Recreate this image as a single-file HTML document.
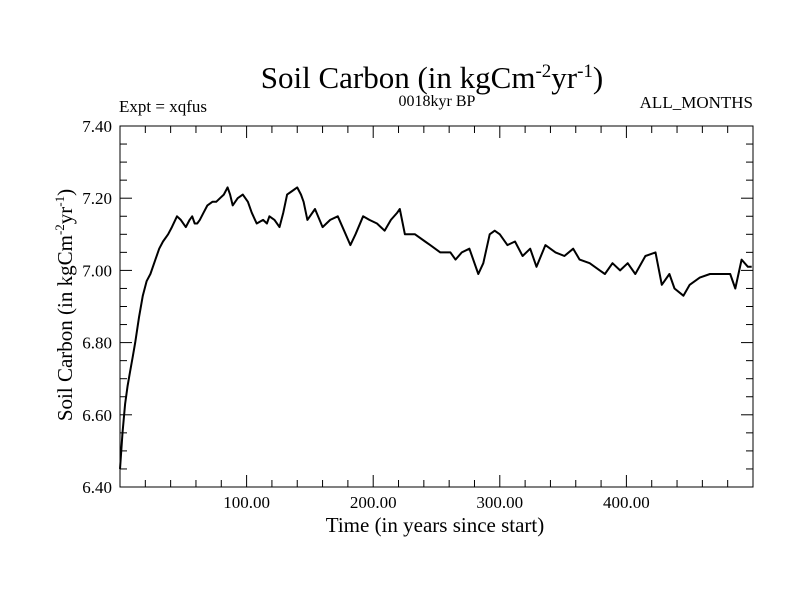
<!DOCTYPE html>
<html><head><meta charset="utf-8"><style>
body{margin:0;background:#fff;}
svg text{font-family:"Liberation Serif",serif;fill:#000;}
</style></head><body>
<svg id="chart" width="800" height="600" xmlns="http://www.w3.org/2000/svg">
<text x="432" y="88" font-size="31" text-anchor="middle">Soil Carbon (in kgCm<tspan dy="-11" font-size="19">-2</tspan><tspan dy="11">yr</tspan><tspan dy="-11" font-size="19">-1</tspan><tspan dy="11">)</tspan></text>
<text x="119" y="112" font-size="17">Expt = xqfus</text>
<text x="437" y="106" font-size="16" text-anchor="middle">0018kyr BP</text>
<text x="753" y="108" font-size="17" text-anchor="end">ALL_MONTHS</text>
<text x="435" y="532" font-size="21" text-anchor="middle">Time (in years since start)</text>
<text transform="translate(72,305) rotate(-90)" font-size="21" text-anchor="middle">Soil Carbon (in kgCm<tspan dy="-8" font-size="13">-2</tspan><tspan dy="8">yr</tspan><tspan dy="-8" font-size="13">-1</tspan><tspan dy="8">)</tspan></text>
<g id="axes"></g>
<path id="series" fill="none" stroke="#000" stroke-width="2" stroke-linejoin="round"/>
<rect x="120" y="126" width="633" height="361" fill="none" stroke="#000" stroke-width="1"/>
</svg>
<script>
const years=[0,2,4,6,8,10,12,15,18,21,24,28,31,34,38,41,45,48,52,55,57,59,61,63,66,69,73,76,79,82,85,87,89,93,97,101,104,108,113,116,118,122,126,129,132,136,140,143,145,148,154,160,166,172,177,182,186,192,197,203,209,214,219,221,225,233,241,245,253,261,265,270,276,283,287,292,296,300,306,312,318,324,329,336,344,351,358,363,371,379,383,389,395,401,407,415,423,428,434,438,445,450,458,466,474,482,486,491,496,499];
const values=[6.45,6.55,6.63,6.68,6.72,6.76,6.80,6.87,6.93,6.97,6.99,7.03,7.06,7.08,7.10,7.12,7.15,7.14,7.12,7.14,7.15,7.13,7.13,7.14,7.16,7.18,7.19,7.19,7.20,7.21,7.23,7.21,7.18,7.20,7.21,7.19,7.16,7.13,7.14,7.13,7.15,7.14,7.12,7.16,7.21,7.22,7.23,7.21,7.19,7.14,7.17,7.12,7.14,7.15,7.11,7.07,7.10,7.15,7.14,7.13,7.11,7.14,7.16,7.17,7.10,7.10,7.08,7.07,7.05,7.05,7.03,7.05,7.06,6.99,7.02,7.10,7.11,7.10,7.07,7.08,7.04,7.06,7.01,7.07,7.05,7.04,7.06,7.03,7.02,7.00,6.99,7.02,7.00,7.02,6.99,7.04,7.05,6.96,6.99,6.95,6.93,6.96,6.98,6.99,6.99,6.99,6.95,7.03,7.01,7.01];
const yTicks=[6.40,6.60,6.80,7.00,7.20,7.40];
const xTicks=[100,200,300,400];
const X0=120,X1=753,Y0=487,Y1=126;
const xs=v=>X0+(v-0)/(500-0)*(X1-X0);
const ys=v=>Y0-(v-6.4)/(7.4-6.4)*(Y0-Y1);
const NS="http://www.w3.org/2000/svg";
const ax=document.getElementById('axes');
function line(x1,y1,x2,y2){const l=document.createElementNS(NS,'line');l.setAttribute('x1',x1);l.setAttribute('y1',y1);l.setAttribute('x2',x2);l.setAttribute('y2',y2);l.setAttribute('stroke','#000');l.setAttribute('stroke-width','1');


ax.appendChild(l);}
for(let v=20;v<500;v+=20){const x=xs(v);const L=(v%100===0)?12:7;line(x,Y0,x,Y0-L);line(x,Y1,x,Y1+L);}
for(let v=6.45;v<7.39;v+=0.05){const y=ys(v);const major=Math.abs(Math.round(v*5)-v*5)<1e-6;const L=major?12:7;line(X0,y,X0+L,y);line(X1,y,X1-L,y);}
yTicks.forEach(v=>{const t=document.createElementNS(NS,'text');t.setAttribute('x',112);t.setAttribute('y',ys(v)+6);t.setAttribute('font-size','17');t.setAttribute('text-anchor','end');t.textContent=v.toFixed(2);


ax.appendChild(t);});
xTicks.forEach(v=>{const t=document.createElementNS(NS,'text');t.setAttribute('x',xs(v));t.setAttribute('y',508);t.setAttribute('font-size','17');t.setAttribute('text-anchor','middle');t.textContent=v.toFixed(2);


ax.appendChild(t);});
document.getElementById('series').setAttribute('d',years.map((y,i)=>(i?'L':'M')+xs(y).toFixed(1)+','+ys(values[i]).toFixed(1)).join(''));
</script>
</body></html>
